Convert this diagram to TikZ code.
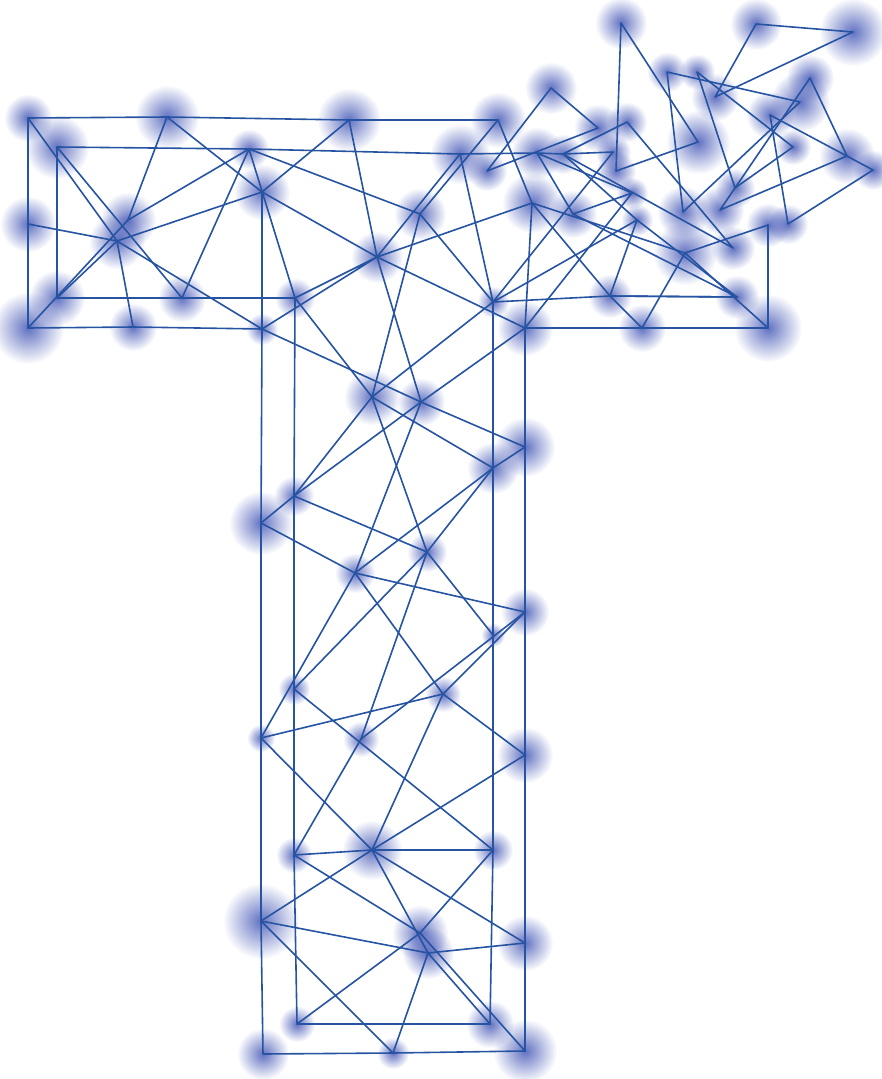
\documentclass[tikz,border=0pt]{standalone}
\usepackage{tikz}
\definecolor{linkblue}{RGB}{38, 84, 162}
\definecolor{glowblue}{RGB}{58, 78, 178}
\usetikzlibrary{fadings}
\tikzfading[name=glowfade, inner color=transparent!20, outer color=transparent!100]

\begin{document}
\begin{tikzpicture}[
    x=1pt, y=-1pt,
    link/.style={draw=linkblue, line width=1.6pt, line join=round, line cap=round},
    glow/.style={fill=glowblue, path fading=glowfade}
]
    \useasboundingbox (0,0) rectangle (881,1079);

    % Hubs - top bar, left half
    \coordinate (A1) at (28,118);
    \coordinate (A2) at (167,117);
    \coordinate (A3) at (57,147);
    \coordinate (A4) at (249,149);
    \coordinate (A5) at (262,192);
    \coordinate (A6) at (28,224);
    \coordinate (A7) at (128,220);
    \coordinate (A8) at (117,241);
    \coordinate (A9) at (57,298);
    \coordinate (A10) at (182,298);
    \coordinate (A11) at (295,298);
    \coordinate (A12) at (28,328);
    \coordinate (A13) at (133,327);
    \coordinate (A14) at (262,329);
    \coordinate (T1) at (349,120);
    \coordinate (T2) at (460,154);
    \coordinate (E1) at (420,214);
    \coordinate (E2) at (377,257);

    % Hubs - top bar, right half
    \coordinate (B1) at (621,23);
    \coordinate (B2) at (756,24);
    \coordinate (B3) at (853,32);
    \coordinate (B4) at (667,72);
    \coordinate (B5) at (697,72);
    \coordinate (B6) at (715,97);
    \coordinate (B7) at (810,78);
    \coordinate (B8) at (800,102);
    \coordinate (B9) at (551,88);
    \coordinate (B10) at (498,120);
    \coordinate (B11) at (598,128);
    \coordinate (B12) at (627,122);
    \coordinate (B13) at (698,142);
    \coordinate (B14) at (770,115);
    \coordinate (B15) at (793,147);
    \coordinate (B16) at (847,156);
    \coordinate (B17) at (873,170);
    \coordinate (B18) at (487,171);
    \coordinate (B19) at (537,153);
    \coordinate (B20) at (563,154);
    \coordinate (B21) at (613,152);
    \coordinate (B22) at (616,171);
    \coordinate (B23) at (735,188);
    \coordinate (B24) at (720,210);
    \coordinate (B25) at (683,212);
    \coordinate (B26) at (788,224);
    \coordinate (B27) at (532,203);
    \coordinate (B28) at (573,214);
    \coordinate (B29) at (632,193);
    \coordinate (B30) at (637,220);
    \coordinate (B31) at (685,253);
    \coordinate (B32) at (733,248);
    \coordinate (B33) at (768,225);
    \coordinate (B34) at (493,302);
    \coordinate (B35) at (610,296);
    \coordinate (B36) at (737,297);
    \coordinate (B37) at (525,328);
    \coordinate (B38) at (642,328);
    \coordinate (B39) at (768,328);

    % Hubs - stem, upper
    \coordinate (C3) at (372,397);
    \coordinate (C4) at (421,402);
    \coordinate (C5) at (525,447);
    \coordinate (C6) at (493,468);
    \coordinate (C7) at (294,496);
    \coordinate (C8) at (261,523);
    \coordinate (C9) at (427,552);
    \coordinate (C10) at (355,573);
    \coordinate (C11) at (525,612);
    \coordinate (C12) at (493,635);

    % Hubs - stem, lower
    \coordinate (D1) at (294,689);
    \coordinate (D2) at (443,694);
    \coordinate (D3) at (261,738);
    \coordinate (D4) at (361,739);
    \coordinate (D5) at (525,755);
    \coordinate (D6) at (294,855);
    \coordinate (D7) at (372,850);
    \coordinate (D8) at (493,850);
    \coordinate (D9) at (261,921);
    \coordinate (D10) at (420,933);
    \coordinate (D11) at (428,953);
    \coordinate (D12) at (525,943);
    \coordinate (D13) at (297,1024);
    \coordinate (D14) at (490,1024);
    \coordinate (D15) at (263,1054);
    \coordinate (D16) at (393,1053);
    \coordinate (D17) at (525,1051);

    % Glows
    \foreach \n/\r in {A1/12, A2/16, A3/16, A4/10, A5/14, A6/14, A7/14, A8/14,
        A9/14, A10/12, A11/10, A12/18, A13/12, A14/8, T1/16, T2/15, E1/13, E2/13,
        B1/13, B2/13, B3/17, B4/10, B5/9, B6/12, B7/12, B8/15, B9/13, B10/14,
        B11/12, B12/10, B13/16, B14/12, B15/9, B16/14, B17/10, B18/10, B19/13,
        B20/10, B21/9, B22/10, B23/10, B24/12, B25/13, B26/10, B27/15, B28/12,
        B29/8, B30/8, B31/16, B32/11, B33/11, B34/8, B35/11, B36/11, B37/14,
        B38/12, B39/17, C3/14, C4/12, C5/15, C6/13, C7/10, C8/16, C9/10, C10/10,
        C11/12, C12/6, D1/8, D2/9, D3/7, D4/9, D5/14, D6/9, D7/15, D8/10, D9/19,
        D10/14, D11/13, D12/14, D13/9, D14/12, D15/13, D16/8, D17/16}
        \fill[glow] (\n) circle (2*\r pt);

    % Links - long straight runs
    \draw[link] (A1) -- (A2) -- (T1) -- (B10);
    \draw[link] (A3) -- (A4) -- (T2) -- (B19) -- (B20) -- (B21);
    \draw[link] (A1) -- (A6) -- (A12) -- (A13) -- (A14);
    \draw[link] (A3) -- (A9) -- (A10) -- (A11);
    \draw[link] (A5) -- (A14) -- (C8) -- (D3) -- (D9) -- (D15) -- (D16) -- (D17);
    \draw[link] (A11) -- (C7) -- (D1) -- (D6) -- (D13) -- (D14);
    \draw[link] (B34) -- (C6) -- (C12) -- (D8) -- (D14);
    \draw[link] (B27) -- (B37) -- (C5) -- (C11) -- (D5) -- (D12) -- (D17);
    \draw[link] (B34) -- (B35) -- (B36);
    \draw[link] (B37) -- (B38) -- (B39) -- (B33);

    % Links - top bar, left half
    \draw[link] (A1) -- (A8);
    \draw[link] (A3) -- (A10);
    \draw[link] (A2) -- (A7);
    \draw[link] (A6) -- (A8);
    \draw[link] (A8) -- (A13);
    \draw[link] (A12) -- (A7);
    \draw[link] (A9) -- (A8);
    \draw[link] (A7) -- (A4);
    \draw[link] (A8) -- (A5);
    \draw[link] (A8) -- (A14);
    \draw[link] (A10) -- (A4);
    \draw[link] (A2) -- (A5);
    \draw[link] (A4) -- (A11);
    \draw[link] (T1) -- (A5);
    \draw[link] (T1) -- (E2);
    \draw[link] (A4) -- (E1);
    \draw[link] (A5) -- (E2);
    \draw[link] (T2) -- (E2);
    \draw[link] (B10) -- (E1);
    \draw[link] (A11) -- (E2) -- (A14);
    \draw[link] (E2) -- (B27);
    \draw[link] (E2) -- (B37);
    \draw[link] (E2) -- (C4);
    \draw[link] (E1) -- (C3);
    \draw[link] (E1) -- (B34);
    \draw[link] (T2) -- (B34);

    % Links - top bar, right half
    \draw[link] (B2) -- (B3) -- (B6) -- cycle;
    \draw[link] (B1) -- (B22) -- (B13) -- cycle;
    \draw[link] (B4) -- (B8) -- (B25) -- cycle;
    \draw[link] (B5) -- (B15) -- (B23) -- cycle;
    \draw[link] (B7) -- (B16) -- (B24) -- cycle;
    \draw[link] (B14) -- (B17) -- (B26) -- cycle;
    \draw[link] (B9) -- (B11) -- (B18) -- cycle;
    \draw[link] (B12) -- (B20) -- (B32) -- cycle;
    \draw[link] (B19) -- (B28) -- (B29) -- cycle;
    \draw[link] (B30) -- (B35) -- (B36) -- cycle;
    \draw[link] (B31) -- (B33) -- (B39) -- cycle;
    \draw[link] (B20) -- (B30);
    \draw[link] (B31) -- (B38) -- (B35);
    \draw[link] (B27) -- (B31);
    \draw[link] (B27) -- (B35);
    \draw[link] (B28) -- (B36);
    \draw[link] (B10) -- (B27);
    \draw[link] (B21) -- (B34);
    \draw[link] (B34) -- (B30);
    \draw[link] (B37) -- (B29);

    % Links - stem, upper
    \draw[link] (A11) -- (C3);
    \draw[link] (A14) -- (C4) -- (C5);
    \draw[link] (C3) -- (B34);
    \draw[link] (C4) -- (B37);
    \draw[link] (C3) -- (C6);
    \draw[link] (C3) -- (C9);
    \draw[link] (C3) -- (C7);
    \draw[link] (C4) -- (C10);
    \draw[link] (C4) -- (C7);
    \draw[link] (C7) -- (C8);
    \draw[link] (C7) -- (C9);
    \draw[link] (C8) -- (C10);
    \draw[link] (C6) -- (C5);
    \draw[link] (C6) -- (C10);
    \draw[link] (C6) -- (C9);
    \draw[link] (C10) -- (C11);
    \draw[link] (C9) -- (C12);
    \draw[link] (C11) -- (D4);
    \draw[link] (C11) -- (D2);
    \draw[link] (C10) -- (D3);
    \draw[link] (C10) -- (D2);
    \draw[link] (C9) -- (D1);
    \draw[link] (C9) -- (D4);

    % Links - stem, lower
    \draw[link] (D3) -- (D2) -- (D5);
    \draw[link] (D2) -- (D7);
    \draw[link] (D1) -- (D8);
    \draw[link] (D3) -- (D7);
    \draw[link] (D4) -- (D6);
    \draw[link] (D6) -- (D7) -- (D8);
    \draw[link] (D7) -- (D5);
    \draw[link] (D7) -- (D9);
    \draw[link] (D7) -- (D12);
    \draw[link] (D7) -- (D11);
    \draw[link] (D6) -- (D10);
    \draw[link] (D8) -- (D10);
    \draw[link] (D13) -- (D10);
    \draw[link] (D9) -- (D11);
    \draw[link] (D9) -- (D16);
    \draw[link] (D11) -- (D12);
    \draw[link] (D11) -- (D16);
    \draw[link] (D10) -- (D17);
    \draw[link] (D11) -- (D14);
\end{tikzpicture}
\end{document}
